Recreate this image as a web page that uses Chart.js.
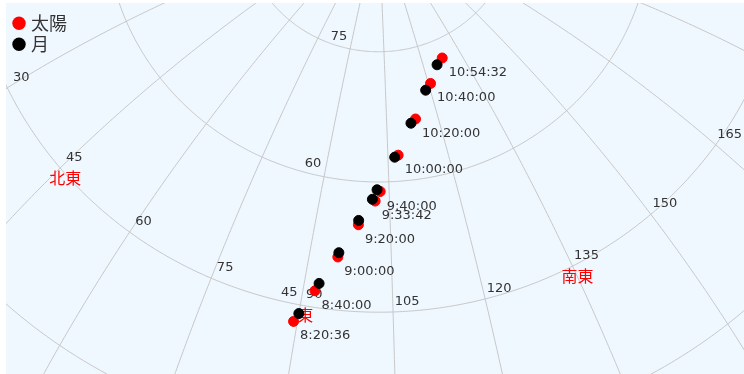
<!DOCTYPE html>
<html>
<head>
<meta charset="utf-8">
<script src="https://cdn.jsdelivr.net/npm/chart.js@4/dist/chart.umd.min.js"></script>
<style>
  html, body { margin: 0; padding: 0; background: #ffffff; }
  #wrap { position: absolute; left: 6px; top: 3px; width: 738px; height: 371px; }
</style>
</head>
<body>
<div id="wrap"><canvas id="sky" width="738" height="371"></canvas></div>
<script>
// Observation times (JST)
const times = ['8:20:36', '8:40:00', '9:00:00', '9:20:00', '9:33:42', '9:40:00', '10:00:00', '10:20:00', '10:40:00', '10:54:32'];

// Sun position: azimuth / altitude in degrees
const sunAz  = [89.4, 92.0, 95.2, 98.6, 101.9, 103.0, 107.6, 113.5, 120.7, 127.9];
const sunAlt = [43.0, 46.9, 51.1, 55.0, 57.8, 58.9, 63.0, 66.9, 70.5, 72.8];

// Moon position: azimuth / altitude in degrees
const moonAz  = [90.0, 92.5, 95.3, 98.6, 101.3, 102.3, 106.7, 112.0, 118.5, 125.1];
const moonAlt = [44.0, 47.8, 51.6, 55.5, 58.0, 59.1, 62.8, 66.5, 69.9, 72.3];

// Sky grid: altitude circles and azimuth meridians (degrees)
const altCircles = [0, 15, 30, 45, 60, 75];
const azMeridians = [0, 15, 30, 45, 60, 75, 90, 105, 120, 135, 150, 165, 180, 195, 210, 225, 240, 255, 270, 285, 300, 315, 330, 345];
const azTickLabels = [30, 45, 60, 75, 90, 105, 120, 135, 150, 165];
const altTickLabels = [45, 60, 75];
const azLabelAlt = 45;     // azimuth numbers sit on this altitude circle
const altLabelAz = 90;     // altitude numbers sit on this meridian

// Compass directions
const compassAz = [45, 90, 135];
const compassNames = ['北東', '東', '南東'];

// View: azimuthal-equidistant sky view looking east-south-east
const VIEW_AZ = 102, VIEW_ALT = 60, VIEW_ROLL = 0.6;
const X_RANGE = [-0.7435, 0.7403];
const Y_RANGE = [-0.3861, 0.3598];

const D = Math.PI / 180;
const A0 = VIEW_AZ * D, H0 = VIEW_ALT * D;
const F = [Math.cos(H0) * Math.sin(A0), Math.cos(H0) * Math.cos(A0), Math.sin(H0)];
const R = [Math.cos(A0), -Math.sin(A0), 0];
const U = [-Math.sin(H0) * Math.sin(A0), -Math.sin(H0) * Math.cos(A0), Math.cos(H0)];
const CR = Math.cos(VIEW_ROLL * D), SR = Math.sin(VIEW_ROLL * D);
const dot = (a, b) => a[0] * b[0] + a[1] * b[1] + a[2] * b[2];

// (azimuth, altitude) -> plane coordinates of the projection
function project(az, alt) {
  const A = az * D, h = alt * D;
  const v = [Math.cos(h) * Math.sin(A), Math.cos(h) * Math.cos(A), Math.sin(h)];
  const vf = Math.max(-1, Math.min(1, dot(v, F)));
  const th = Math.acos(vf);
  const k = th < 1e-9 ? 1 : th / Math.sin(th);
  const x = dot(v, R) * k, y = dot(v, U) * k;
  return { x: x * CR + y * SR, y: -x * SR + y * CR };
}

const sunPoints = sunAz.map((a, i) => project(a, sunAlt[i]));
const moonPoints = moonAz.map((a, i) => project(a, moonAlt[i]));

const NUM_FONT = '13px "DejaVu Sans"';
const CJK_FONT = '"Noto Sans CJK JP", "Noto Sans CJK SC", sans-serif';
const TEXT_COLOR = '#333333';

function toPixel(chart, p) {
  return [chart.scales.x.getPixelForValue(p.x), chart.scales.y.getPixelForValue(p.y)];
}

const skyBackground = {
  id: 'skyBackground',
  beforeDraw(chart) {
    const { ctx, chartArea: a } = chart;
    ctx.save();
    ctx.fillStyle = '#f0f8ff';
    ctx.fillRect(a.left, a.top, a.right - a.left, a.bottom - a.top);
    ctx.restore();
  }
};

const graticule = {
  id: 'graticule',
  beforeDatasetsDraw(chart) {
    const { ctx, chartArea: a } = chart;
    ctx.save();
    ctx.beginPath();
    ctx.rect(a.left, a.top, a.right - a.left, a.bottom - a.top);
    ctx.clip();

    ctx.strokeStyle = '#c8c8c8';
    ctx.lineWidth = 1;
    const strokePath = (pts) => {
      ctx.beginPath();
      pts.forEach((p, i) => {
        const [px, py] = toPixel(chart, p);
        if (i === 0) ctx.moveTo(px, py); else ctx.lineTo(px, py);
      });
      ctx.stroke();
    };
    altCircles.forEach(h => {
      const pts = [];
      for (let az = 0; az <= 360; az += 0.5) pts.push(project(az, h));
      strokePath(pts);
    });
    azMeridians.forEach(az => {
      const pts = [];
      for (let h = -10; h <= 90; h += 0.5) pts.push(project(az, h));
      strokePath(pts);
    });

    // numbers
    ctx.fillStyle = TEXT_COLOR;
    ctx.font = NUM_FONT;
    ctx.textAlign = 'center';
    ctx.textBaseline = 'alphabetic';
    azTickLabels.forEach(az => {
      const [px, py] = toPixel(chart, project(az, azLabelAlt));
      ctx.fillText(String(az), px + 14, py - 7.3);
    });
    altTickLabels.forEach(h => {
      const [px, py] = toPixel(chart, project(altLabelAz, h));
      ctx.fillText(String(h), px - 11, py - 9.3);
    });

    // compass directions
    ctx.fillStyle = '#ff0000';
    ctx.font = '16px ' + CJK_FONT;
    ctx.textBaseline = 'middle';
    compassAz.forEach((az, i) => {
      const [px, py] = toPixel(chart, project(az, azLabelAlt));
      ctx.fillText(compassNames[i], px + 5, py + 10);
    });
    ctx.restore();
  }
};

const timeLabels = {
  id: 'timeLabels',
  afterDatasetsDraw(chart) {
    const { ctx } = chart;
    ctx.save();
    ctx.fillStyle = TEXT_COLOR;
    ctx.font = NUM_FONT;
    ctx.textAlign = 'left';
    ctx.textBaseline = 'alphabetic';
    sunPoints.forEach((p, i) => {
      const [px, py] = toPixel(chart, p);
      ctx.fillText(times[i], px + 6.5, py + 18);
    });
    ctx.restore();
  }
};

const skyLegend = {
  id: 'skyLegend',
  afterDraw(chart) {
    const { ctx, chartArea: a } = chart;
    ctx.save();
    ctx.font = '18px ' + CJK_FONT;
    ctx.textAlign = 'left';
    ctx.textBaseline = 'middle';
    chart.data.datasets.forEach((ds, i) => {
      const cy = a.top + 20.3 + i * 21;
      ctx.beginPath();
      ctx.arc(a.left + 13, cy, 6.7, 0, Math.PI * 2);
      ctx.fillStyle = ds.backgroundColor;
      ctx.fill();
      ctx.fillStyle = TEXT_COLOR;
      ctx.fillText(ds.label, a.left + 25, cy);
    });
    ctx.restore();
  }
};

new Chart(document.getElementById('sky'), {
  type: 'scatter',
  data: {
    datasets: [
      { label: '太陽', data: sunPoints, backgroundColor: '#ff0000', borderColor: '#ff0000', pointRadius: 5, borderWidth: 1, order: 2 },
      { label: '月', data: moonPoints, backgroundColor: '#000000', borderColor: '#000000', pointRadius: 5, borderWidth: 1, order: 1 }
    ]
  },
  options: {
    responsive: false,
    animation: false,
    devicePixelRatio: 1,
    events: [],
    layout: { padding: 0, autoPadding: false },
    scales: {
      x: { type: 'linear', display: false, bounds: 'data', min: X_RANGE[0], max: X_RANGE[1] },
      y: { type: 'linear', display: false, bounds: 'data', min: Y_RANGE[0], max: Y_RANGE[1] }
    },
    plugins: { legend: { display: false }, tooltip: { enabled: false } }
  },
  plugins: [skyBackground, graticule, timeLabels, skyLegend]
});
</script>
</body>
</html>
